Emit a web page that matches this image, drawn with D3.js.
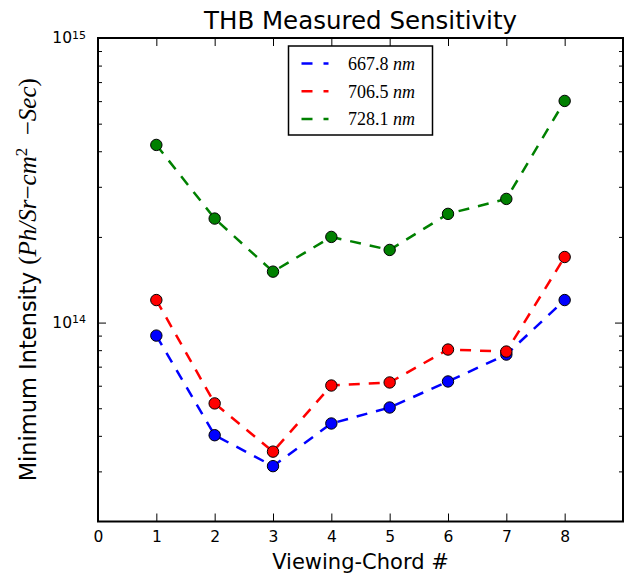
<!DOCTYPE html>
<html>
<head>
<meta charset="utf-8">
<script src="https://cdn.jsdelivr.net/npm/d3@7"></script>
<style>
  body { margin: 0; background: #fff; }
  svg { display: block; }
  .tick text { font-family: "DejaVu Sans", sans-serif; }
</style>
</head>
<body>
<div id="chart"></div>
<script>
// data
const chords = [1, 2, 3, 4, 5, 6, 7, 8];
const blue6678 = [9.0e13, 4.02e13, 3.13e13, 4.42e13, 5.03e13, 6.21e13, 7.72e13, 1.20e14];
const red7065 = [1.20e14, 5.2e13, 3.52e13, 6.01e13, 6.16e13, 8.04e13, 7.91e13, 1.70e14];
const green7281 = [4.21e14, 2.32e14, 1.51e14, 2.0e14, 1.80e14, 2.41e14, 2.72e14, 6.01e14];
const seriesNames = ["667.8", "706.5", "728.1"];
const seriesColors = ["#0000ff", "#ff0000", "#008000"];
const xTicks = [0, 1, 2, 3, 4, 5, 6, 7, 8];
const yMajor = [1e14, 1e15];

const W = 630, H = 573;
const L = 98, R = 623, T = 38, B = 521.5;

const svg = d3.select("#chart").append("svg")
  .attr("width", W).attr("height", H);

const x = d3.scaleLinear().domain([0, 9]).range([L, R]);
const y = d3.scaleLog().domain([2e13, 1e15]).range([B, T]);

// 次刻度
const yMinor = [];
for (let e = 13; e <= 14; e++) {
  for (let m = 2; m <= 9; m++) {
    const v = m * Math.pow(10, e);
    if (v > 2e13 && v < 1e15) yMinor.push(v);
  }
}

// x axis (ticks inward, bottom and top)
const gx = svg.append("g").attr("transform", `translate(0,${B})`)
  .call(d3.axisBottom(x).tickValues(xTicks).tickSize(-8).tickPadding(9).tickFormat(d3.format("d")));
gx.select(".domain").remove();
gx.selectAll("text").attr("font-size", 15.5).attr("fill", "#000");

svg.append("g").attr("transform", `translate(0,${T})`)
  .call(d3.axisTop(x).tickValues(xTicks).tickSize(-8).tickFormat(""))
  .select(".domain").remove();

// y axis major / minor, both sides
const gy = svg.append("g").attr("transform", `translate(${L},0)`)
  .call(d3.axisLeft(y).tickValues(yMajor).tickSize(-8).tickPadding(12).tickFormat(""));
gy.select(".domain").remove();
gy.selectAll(".tick").append("text")
  .attr("x", -12).attr("dy", "0.32em").attr("text-anchor", "end")
  .attr("font-size", 15.5).attr("fill", "#000")
  .each(function (d) {
    const t = d3.select(this);
    t.append("tspan").text("10");
    t.append("tspan").attr("dy", "-0.45em").attr("font-size", 11).text(Math.round(Math.log10(d)));
  });

svg.append("g").attr("transform", `translate(${L},0)`)
  .call(d3.axisLeft(y).tickValues(yMinor).tickSize(-4).tickFormat(""))
  .select(".domain").remove();
svg.append("g").attr("transform", `translate(${R},0)`)
  .call(d3.axisRight(y).tickValues(yMajor).tickSize(-8).tickFormat(""))
  .select(".domain").remove();
svg.append("g").attr("transform", `translate(${R},0)`)
  .call(d3.axisRight(y).tickValues(yMinor).tickSize(-4).tickFormat(""))
  .select(".domain").remove();

svg.selectAll(".tick line").attr("stroke", "#000").attr("stroke-width", 1);

// lines + markers
const allSeries = [blue6678, red7065, green7281];
const line = d3.line().x((d, i) => x(chords[i])).y(d => y(d));

allSeries.forEach((vals, k) => {
  svg.append("path")
    .datum(vals)
    .attr("d", line)
    .attr("fill", "none")
    .attr("stroke", seriesColors[k])
    .attr("stroke-width", 2.5)
    .attr("stroke-dasharray", "11,9");
});
allSeries.forEach((vals, k) => {
  svg.append("g").selectAll("circle")
    .data(vals)
    .join("circle")
    .attr("cx", (d, i) => x(chords[i]))
    .attr("cy", d => y(d))
    .attr("r", 5.7)
    .attr("fill", seriesColors[k])
    .attr("stroke", "#000")
    .attr("stroke-width", 1);
});

// frame
svg.append("rect")
  .attr("x", L).attr("y", T).attr("width", R - L).attr("height", B - T)
  .attr("fill", "none").attr("stroke", "#000").attr("stroke-width", 2);

// legend
const serif = "'Liberation Serif', serif";
const leg = svg.append("g");
leg.append("rect")
  .attr("x", 288.5).attr("y", 46).attr("width", 144).attr("height", 89)
  .attr("fill", "#fff").attr("stroke", "#000").attr("stroke-width", 1.5);
seriesNames.forEach((name, k) => {
  const ly = 63.5 + k * 27.7;
  leg.append("line")
    .attr("x1", 301.5).attr("x2", 328.5).attr("y1", ly).attr("y2", ly)
    .attr("stroke", seriesColors[k]).attr("stroke-width", 2.5)
    .attr("stroke-dasharray", "11,11");
  const t = leg.append("text")
    .attr("x", 348).attr("y", ly + 6.5)
    .attr("font-family", serif).attr("font-size", 18);
  t.append("tspan").text(name + " ");
  t.append("tspan").attr("font-style", "italic").text("nm");
});

// title
svg.append("text")
  .attr("x", (L + R) / 2).attr("y", 29)
  .attr("text-anchor", "middle")
  .attr("font-family", "'DejaVu Sans', sans-serif").attr("font-size", 24.5)
  .text("THB Measured Sensitivity");

// x label
svg.append("text")
  .attr("x", (L + R) / 2).attr("y", 569)
  .attr("text-anchor", "middle")
  .attr("font-family", "'DejaVu Sans', sans-serif").attr("font-size", 21)
  .text("Viewing-Chord #");

// y label
const yl = svg.append("text")
  .attr("transform", `translate(36,${(T + B) / 2}) rotate(-90)`)
  .attr("text-anchor", "middle")
  .attr("font-family", "'DejaVu Sans', sans-serif").attr("font-size", 22.5);
yl.append("tspan").text("Minimum Intensity ");
const ms = 25;
yl.append("tspan").attr("font-family", serif).attr("font-size", ms).text("(");
yl.append("tspan").attr("font-family", serif).attr("font-size", ms).attr("font-style", "italic").text("Ph/Sr");
yl.append("tspan").attr("font-family", serif).attr("font-size", ms).text("\u2212");
yl.append("tspan").attr("font-family", serif).attr("font-size", ms).attr("font-style", "italic").text("cm");
yl.append("tspan").attr("font-family", serif).attr("font-size", 17).attr("dy", "-0.55em").text("2");
yl.append("tspan").attr("font-family", serif).attr("font-size", ms).attr("dy", "0.37em").text("\u2002\u2212");
yl.append("tspan").attr("font-family", serif).attr("font-size", ms).attr("font-style", "italic").text("Sec");
yl.append("tspan").attr("font-family", serif).attr("font-size", ms).text(")");
</script>
</body>
</html>
